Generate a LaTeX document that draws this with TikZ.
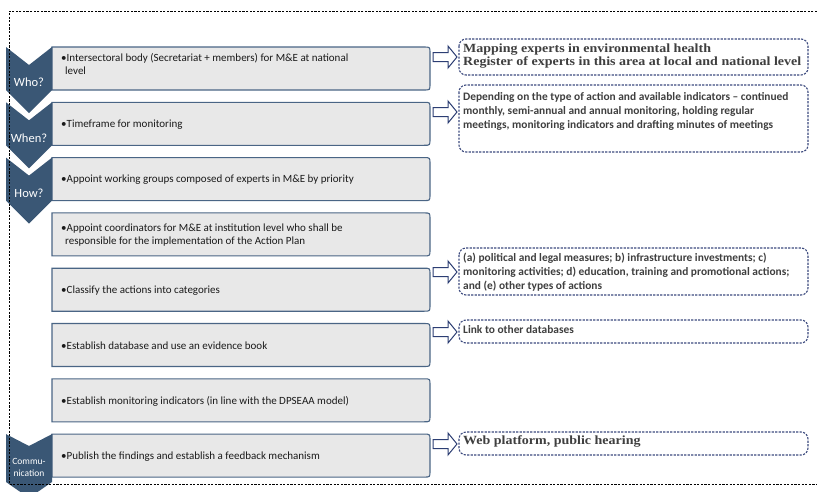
\documentclass[tikz,border=0pt]{standalone}
\usepackage{fontspec}
\setmainfont{Carlito}
\newfontfamily\serifbold[FakeStretch=1.12]{Liberation Serif}
\definecolor{chev}{HTML}{3A5775}
\definecolor{boxfill}{HTML}{E8E8E8}
\definecolor{boxline}{HTML}{4A6585}
\definecolor{callline}{HTML}{3C4A7E}
\definecolor{arrline}{HTML}{2C3E73}
\definecolor{calltext}{HTML}{3F3F3F}
\definecolor{boxtext}{HTML}{1A1A1A}
\tikzset{
  rowbox/.style={fill=boxfill, draw=boxline, line width=1.1pt},
  chevshape/.style={fill=chev, draw=none},
  chevlabel/.style={text=white, font=\fontsize{12.5}{13}\selectfont, align=center, inner sep=0pt},
  rowtext/.style={anchor=west, text=boxtext, font=\fontsize{11}{12.8}\selectfont, align=left, inner sep=0pt},
  callbox/.style={draw=callline, line width=1.1pt, dash pattern=on 2.2pt off 1.3pt, rounded corners=7pt, fill=white},
  calltxt/.style={anchor=west, text=calltext, font=\fontsize{11.4}{13.8}\selectfont\bfseries, align=left, inner sep=0pt},
  callserif/.style={anchor=west, text=calltext, font=\fontsize{12.5}{13}\selectfont\serifbold\bfseries, align=left, inner sep=0pt},
  blockarrow/.style={draw=arrline, fill=white, line width=1pt, line join=miter},
  frame/.style={draw=black, line width=0.7pt, dash pattern=on 2.2pt off 1.4pt}
}
\newcommand{\rowrect}[2]{%
  \draw[rowbox] (52,#1) -- (424,#1) .. controls (430,#1) .. (430,#1+6) -- (430,#2-6) .. controls (430,#2) .. (424,#2) -- (52,#2) -- cycle;}
\newcommand{\blockarr}[1]{%
  \draw[blockarrow] (433,#1-4.5) -- (448,#1-4.5) -- (448,#1-11) -- (457,#1) -- (448,#1+11) -- (448,#1+4.5) -- (433,#1+4.5) -- cycle;}
\begin{document}
\begin{tikzpicture}[x=1pt,y=-1pt]
\useasboundingbox (0,0) rectangle (817,491);
% row boxes
\rowrect{47}{90}
\rowrect{102.3}{145.3}
\rowrect{157.6}{200.6}
\rowrect{212.9}{255.9}
\rowrect{268.2}{311.2}
\rowrect{323.5}{366.5}
\rowrect{378.8}{421.8}
\rowrect{434.1}{477.1}
% chevrons
\fill[chevshape] (6,47) -- (29,65) -- (52,47) -- (52,90) -- (29,113) -- (6,90) -- cycle;
\fill[chevshape] (6,102.3) -- (29,120.3) -- (52,102.3) -- (52,145.3) -- (29,168.3) -- (6,145.3) -- cycle;
\fill[chevshape] (6,157.6) -- (29,175.6) -- (52,157.6) -- (52,200.6) -- (29,223.6) -- (6,200.6) -- cycle;
\fill[chevshape] (6,434.1) -- (29,446) -- (52,434.1) -- (52,482) -- (29,498) -- (6,482) -- cycle;
\node[chevlabel] (who) at (29,82) {Who?};
\node[chevlabel] (when) at (29,138) {When?};
\node[chevlabel] (how) at (29,193) {How?};
\node[chevlabel, font=\fontsize{9.5}{12}\selectfont] (comm) at (29,467) {Commu-\\nication};
% row texts
\node[rowtext] (r1) at (61,64) {•Intersectoral body (Secretariat + members) for M\&E at national\\\hspace{4pt}level};
\node[rowtext] (r2) at (61,124.5) {•Timeframe for monitoring};
\node[rowtext] (r3) at (61,180) {•Appoint working groups composed of experts in M\&E by priority};
\node[rowtext] (r4) at (61,235) {•Appoint coordinators for M\&E at institution level who shall be\\\hspace{4pt}responsible for the implementation of the Action Plan};
\node[rowtext] (r5) at (61,290.5) {•Classify the actions into categories};
\node[rowtext] (r6) at (61,346) {•Establish database and use an evidence book};
\node[rowtext] (r7) at (61,401) {•Establish monitoring indicators (in line with the DPSEAA model)};
\node[rowtext] (r8) at (61,457) {•Publish the findings and establish a feedback mechanism};
% callouts
\draw[callbox] (459,39) rectangle (808,75);
\node[callserif] (c1) at (463,56) {Mapping experts in environmental health\\Register of experts in this area at local and national level};
\draw[callbox] (459,85) rectangle (808,152);
\node[calltxt, anchor=north west] (c2) at (463,92.5) {Depending on the type of action and available indicators – continued\\monthly, semi-annual and annual monitoring, holding regular\\meetings, monitoring indicators and drafting minutes of meetings};
\draw[callbox] (459,248) rectangle (808,295);
\node[calltxt] (c3) at (463,272) {(a) political and legal measures; b) infrastructure investments; c)\\monitoring activities; d) education, training and promotional actions;\\and (e) other types of actions};
\draw[callbox] (459,320) rectangle (808,343);
\node[calltxt] (c4) at (463,330) {Link to other databases};
\draw[callbox] (459,432) rectangle (808,455);
\node[callserif] (c5) at (463,441) {Web platform, public hearing};
% arrows
\blockarr{57}
\blockarr{112}
\blockarr{272}
\blockarr{332}
\blockarr{444}
% frame
\draw[frame] (817,11) -- (9,11) -- (9,484) -- (817,484);
\end{tikzpicture}
\end{document}
